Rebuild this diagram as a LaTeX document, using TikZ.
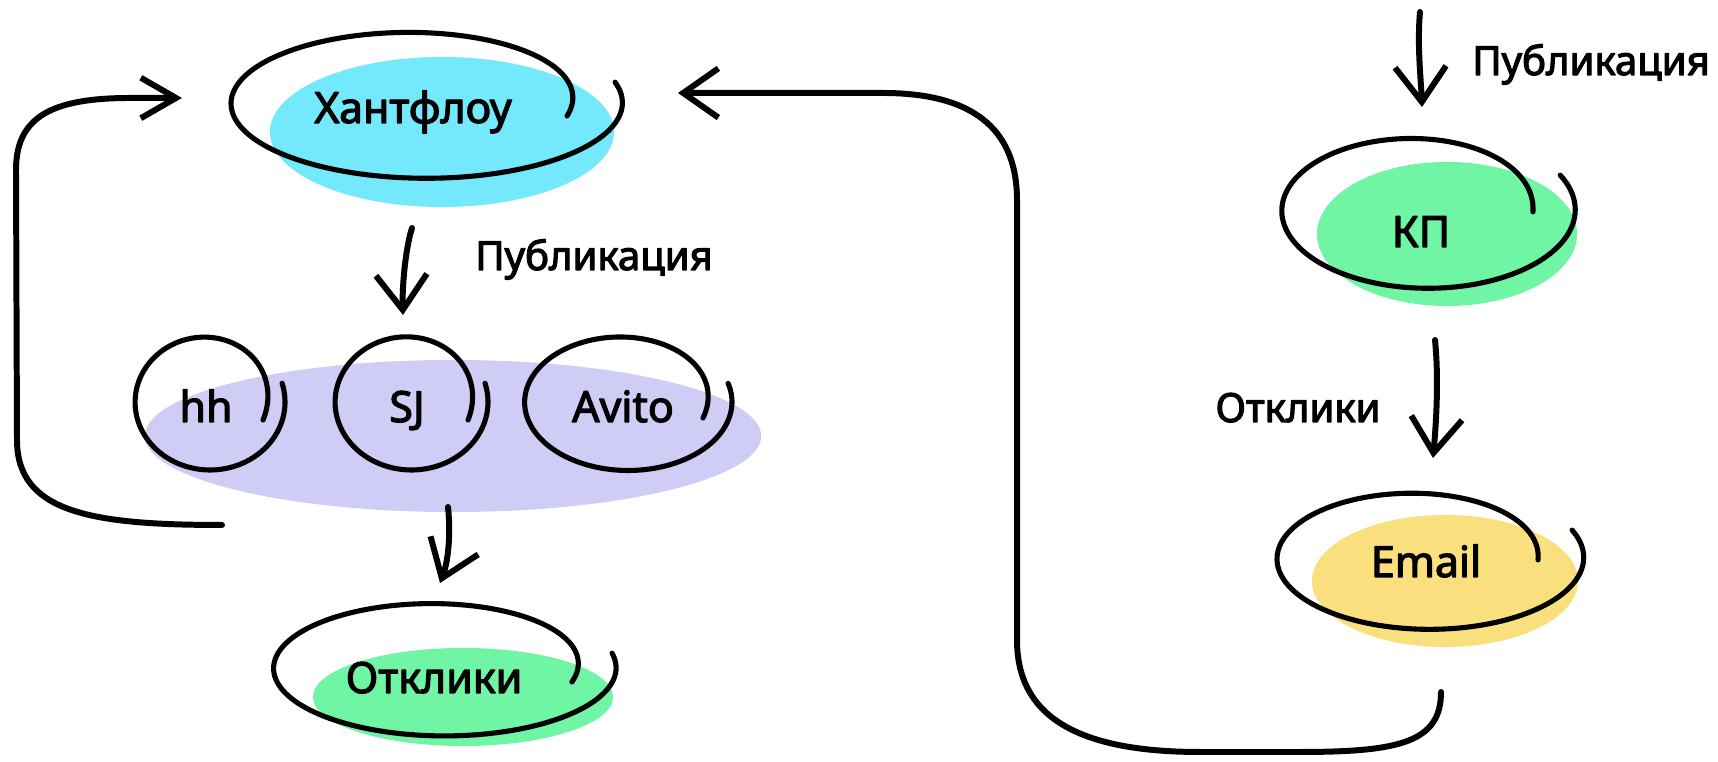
\documentclass[tikz,border=0pt]{standalone}
\usepackage{fontspec}
\setmainfont{Noto Sans}
\newfontfamily\semib{Noto Sans}[FakeBold=2.8]
\usetikzlibrary{arrows.meta,shapes.geometric}
\definecolor{hfcyan}{HTML}{74E8FC}
\definecolor{okgreen}{HTML}{6FF5A4}
\definecolor{emyellow}{HTML}{FADF7E}
\definecolor{jblue}{HTML}{CFCCF5}
\tikzset{
  blob/.style={ellipse, draw=none, inner sep=0pt},
  txt/.style={anchor=base, inner sep=0pt, font=\semib\fontsize{11.4pt}{13pt}\selectfont},
  bigtxt/.style={txt, font=\semib\fontsize{12.2pt}{14pt}\selectfont},
  loopline/.style={line width=1.45pt, line cap=round},
  conn/.style={line width=1.7pt, line cap=round},
  shortarr/.style={conn, -{Straight Barb[length=10pt,width=14.5pt]}},
}
% cx cy rx ry s0 t0 s1 t1
\newcommand\drawswirl[8]{%
  \draw[loopline] plot[domain=0:1, samples=160, smooth, variable=\p]
   ({#1 + #3*(1+(#7-1)*\p-(1-#5)*exp(-(\p/0.22)^2))*cos(#6+(#8-#6)*\p)},
    {#2 + #4*(1+(#7-1)*\p-(1-#5)*exp(-(\p/0.22)^2))*sin(#6+(#8-#6)*\p)});}
\begin{document}
\begin{tikzpicture}[x=0.01cm,y=-0.01cm, line join=round]
\useasboundingbox (0,0) rectangle (1718,762);
% colour blobs
\node[blob, fill=hfcyan, minimum width=3.44cm, minimum height=1.50cm] (hf) at (442,132) {};
\node[blob, fill=jblue, minimum width=6.16cm, minimum height=1.52cm] (jb) at (453,436) {};
\node[blob, fill=okgreen, minimum width=3.00cm, minimum height=0.98cm] (ok) at (463,697) {};
\node[blob, fill=okgreen, minimum width=2.60cm, minimum height=1.44cm] (kp) at (1447,234) {};
\node[blob, fill=emyellow, minimum width=2.66cm, minimum height=1.32cm] (em) at (1445,581) {};
% texts
\node[bigtxt] (hft) at (413,123) {Хантфлоу};
\node[bigtxt] (hht) at (206,422) {hh};
\node[bigtxt] (sjt) at (407,422) {SJ};
\node[bigtxt] (avt) at (623,422) {Avito};
\node[bigtxt] (okt) at (434,693) {Отклики};
\node[bigtxt] (kpt) at (1421,247) {КП};
\node[bigtxt] (emt) at (1426,577) {Email};
\node[txt] (pub1) at (594,270) {Публикация};
\node[txt] (pub2) at (1591,75) {Публикация};
\node[txt] (otk2) at (1298,422) {Отклики};
% swirls
\drawswirl{425.5}{103}{192.5}{74}{0.756}{13.5}{1.024}{-376.1}
\drawswirl{444}{668}{169}{67}{0.785}{15.4}{1.019}{-372.7}
\drawswirl{1427.5}{210}{144.5}{77}{0.730}{2}{1.024}{-386.4}
\drawswirl{1428.5}{558}{148.5}{69}{0.738}{2.2}{1.048}{-382.8}
\drawswirl{210}{402}{75}{68}{0.755}{20.5}{1.0}{-376.2}
\drawswirl{411.5}{402}{76.5}{68}{0.785}{19.7}{1.0}{-376.2}
\drawswirl{628}{402}{103}{68}{0.765}{17.9}{1.01}{-376}
% connector ends
\coordinate (a1) at (222,525); \coordinate (a1e) at (182,98);
\coordinate (a2) at (1441,692); \coordinate (a2e) at (678,93);
\coordinate (p1s) at (412,228); \coordinate (p1e) at (403,315);
\coordinate (p3s) at (448,507); \coordinate (p3e) at (440,583);
\coordinate (p2s) at (1420,12); \coordinate (p2e) at (1422,107);
\coordinate (p4s) at (1435,340); \coordinate (p4e) at (1433,458);
% connectors
\draw[conn, -{Straight Barb[length=10pt,width=11.5pt]}] (a1) .. controls (90,525) and (17,512) .. (17,440) -- (16,170) .. controls (16,118) and (50,98) .. (130,98) -- (a1e);
\draw[conn, -{Straight Barb[length=10pt,width=14pt]}] (a2) .. controls (1441,742) and (1400,752) .. (1300,752) -- (1200,752) .. controls (1075,752) and (1017,715) .. (1017,640) -- (1017,200) .. controls (1017,135) and (980,93) .. (883,93) -- (a2e);
\draw[shortarr] (p1s) .. controls (405,250) and (402,290) .. (p1e);
\draw[shortarr] (p3s) .. controls (451,535) and (448,562) .. (p3e);
\draw[shortarr] (p2s) .. controls (1417,45) and (1421,80) .. (p2e);
\draw[shortarr] (p4s) .. controls (1439,380) and (1436,425) .. (p4e);
\end{tikzpicture}
\end{document}
